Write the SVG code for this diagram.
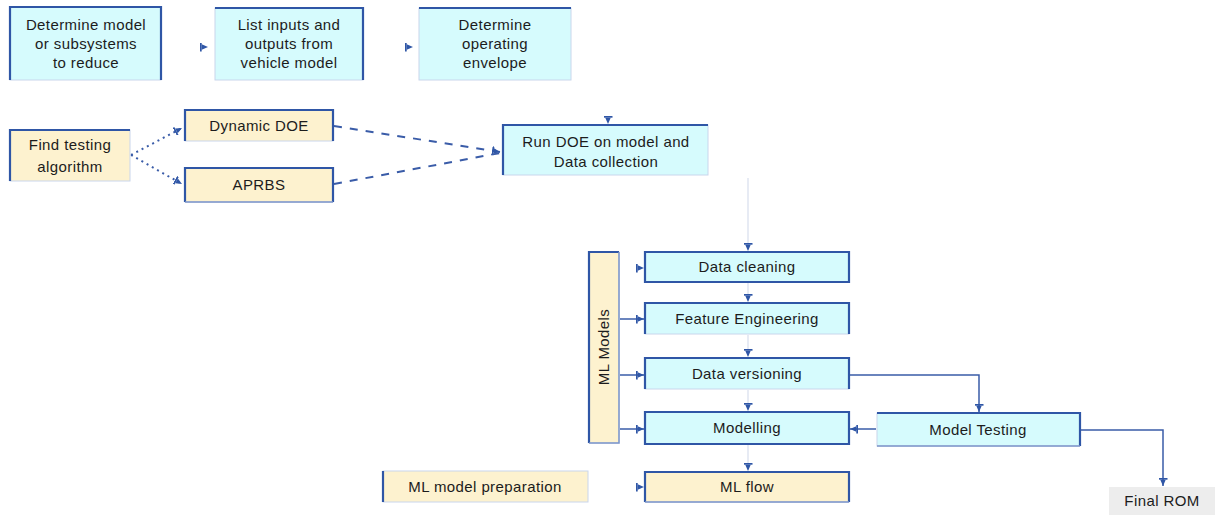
<svg xmlns="http://www.w3.org/2000/svg" width="1215" height="515" viewBox="0 0 1215 515">
  <style>
    text { font-family: "Liberation Sans", Arial, sans-serif; font-size: 15px; fill: #1c1c1c; text-anchor: middle; letter-spacing: 0.4px; }
    .cyan { fill: #d6fbfd; stroke: #c9d6ec; stroke-width: 1; }
    .sand { fill: #fdf2cf; stroke: #c9d6ec; stroke-width: 1; }
    .grey { fill: #ededed; stroke: none; }
    .edge { fill: none; stroke: #2f56a6; stroke-width: 2.2; }
    .soft { fill: none; stroke: #7c95c9; stroke-width: 1.5; }
    .link { fill: none; stroke: #3a5ca8; stroke-width: 1.5; }
    .faint { fill: none; stroke: #dfe5f0; stroke-width: 1.5; }
    .dot { fill: none; stroke: #3a5ca8; stroke-width: 2; stroke-dasharray: 2 4; }
    .dash { fill: none; stroke: #3a5ca8; stroke-width: 2; stroke-dasharray: 8 8; }
    .tip { fill: none; stroke: none; marker-end: url(#head); }
  </style>
  <defs>
    <marker id="head" viewBox="0 0 10 10" refX="9" refY="5" markerWidth="9" markerHeight="9" markerUnits="userSpaceOnUse" orient="auto">
      <rect x="0" y="0" width="2" height="10" fill="#2f56a6"/>
      <path d="M2,2 L9,5 L2,8 z" fill="#2f56a6"/>
    </marker>
  </defs>

  <!-- connectors -->
  <g id="connectors">
    <path class="tip" d="M200,47 L208,47"/>
    <path class="tip" d="M405,47 L413,47"/>
    <path class="dot" d="M131,155 L182,128" marker-end="url(#head)"/>
    <path class="dot" d="M131,155 L182,184" marker-end="url(#head)"/>
    <path class="dash" d="M334,126 L500,152" marker-end="url(#head)"/>
    <path class="dash" d="M334,184 L500,153"/>
    <path class="tip" d="M608,110 L608,124"/>
    <path class="faint" d="M748,178 L748,250"/>
    <path class="faint" d="M748,283 L748,301"/>
    <path class="faint" d="M748,335 L748,356"/>
    <path class="faint" d="M748,390 L748,410"/>
    <path class="faint" d="M748,445 L748,470"/>
    <path class="tip" d="M748,240 L748,251"/>
    <path class="tip" d="M748,290 L748,302"/>
    <path class="tip" d="M748,345 L748,357"/>
    <path class="tip" d="M748,400 L748,411"/>
    <path class="tip" d="M748,460 L748,471"/>
    <path class="tip" d="M630,268 L644,268"/>
    <path class="link" d="M620,319 L644,319" marker-end="url(#head)"/>
    <path class="link" d="M620,375 L644,375" marker-end="url(#head)"/>
    <path class="link" d="M620,429 L644,429" marker-end="url(#head)"/>
    <path class="tip" d="M630,487 L644,487"/>
    <path class="link" d="M850,375 L979,375 L979,412" marker-end="url(#head)"/>
    <path class="link" d="M876,429 L850,429" marker-end="url(#head)"/>
    <path class="link" d="M1081,430 L1163,430 L1163,486" marker-end="url(#head)"/>
  </g>

  <!-- planning row -->
  <g id="node-determine-model">
    <rect class="cyan" x="10" y="7" width="151" height="73"/>
    <path class="edge" d="M10,80 L10,7 L161,7 L161,80"/>
    <text x="86" y="30">Determine model</text>
    <text x="86" y="49">or subsystems</text>
    <text x="86" y="68">to reduce</text>
  </g>
  <g id="node-list-io">
    <rect class="cyan" x="215" y="8" width="148" height="72"/>
    <path class="edge" d="M215,8 L363,8 L363,80"/>
    <text x="289" y="30">List inputs and</text>
    <text x="289" y="49">outputs from</text>
    <text x="289" y="68">vehicle model</text>
  </g>
  <g id="node-envelope">
    <rect class="cyan" x="419" y="8" width="152" height="72"/>
    <path class="edge" d="M419,8 L571,8"/>
    <text x="495" y="30">Determine</text>
    <text x="495" y="49">operating</text>
    <text x="495" y="68">envelope</text>
  </g>

  <!-- test design -->
  <g id="node-find-testing">
    <rect class="sand" x="10" y="130" width="120" height="51"/>
    <path class="edge" d="M10,181 L10,130 L130,130"/>
    <text x="70" y="150">Find testing</text>
    <text x="70" y="172">algorithm</text>
  </g>
  <g id="node-dynamic-doe">
    <rect class="sand" x="185" y="110" width="148" height="31"/>
    <path class="edge" d="M185,141 L185,110 L333,110 L333,141"/>
    <text x="259" y="131">Dynamic DOE</text>
  </g>
  <g id="node-aprbs">
    <rect class="sand" x="185" y="168" width="148" height="34"/>
    <path class="edge" d="M185,202 L185,168 L333,168 L333,202"/>
    <path class="soft" d="M185,202 L333,202"/>
    <text x="259" y="190">APRBS</text>
  </g>
  <g id="node-run-doe">
    <rect class="cyan" x="503" y="125" width="205" height="50"/>
    <path class="edge" d="M503,175 L503,125 L708,125"/>
    <text x="606" y="147">Run DOE on model and</text>
    <text x="606" y="167">Data collection</text>
  </g>

  <!-- ML pipeline -->
  <g id="node-ml-models">
    <rect class="sand" x="589" y="252" width="30" height="191"/>
    <path class="edge" d="M589,443 L589,252 L619,252"/>
    <path class="soft" d="M619,252 L619,443 L589,443"/>
    <text x="604" y="347" transform="rotate(-90 604 347)" dy="5">ML Models</text>
  </g>
  <g id="node-data-cleaning">
    <rect class="cyan" x="645" y="252" width="204" height="30"/>
    <path class="edge" d="M645,252 L849,252 L849,282 L645,282 z"/>
    <text x="747" y="272">Data cleaning</text>
  </g>
  <g id="node-feature-eng">
    <rect class="cyan" x="645" y="303" width="204" height="31"/>
    <path class="edge" d="M645,334 L645,303 L849,303 L849,334"/>
    <text x="747" y="324">Feature Engineering</text>
  </g>
  <g id="node-data-versioning">
    <rect class="cyan" x="645" y="358" width="204" height="31"/>
    <path class="edge" d="M645,389 L645,358 L849,358 L849,389"/>
    <text x="747" y="379">Data versioning</text>
  </g>
  <g id="node-modelling">
    <rect class="cyan" x="645" y="412" width="204" height="32"/>
    <path class="edge" d="M645,412 L849,412 L849,444 L645,444 z"/>
    <text x="747" y="433">Modelling</text>
  </g>
  <g id="node-ml-flow">
    <rect class="sand" x="645" y="472" width="204" height="30"/>
    <path class="edge" d="M645,502 L645,472 L849,472 L849,502"/>
    <path class="soft" d="M645,502 L849,502"/>
    <text x="747" y="492">ML flow</text>
  </g>
  <g id="node-ml-prep">
    <rect class="sand" x="383" y="471" width="205" height="31"/>
    <path class="edge" d="M383,471 L383,502"/>
    <text x="485" y="492">ML model preparation</text>
  </g>
  <g id="node-model-testing">
    <rect class="cyan" x="877" y="413" width="203" height="33"/>
    <path class="edge" d="M877,413 L1080,413 L1080,446"/>
    <path class="soft" d="M877,446 L1080,446"/>
    <text x="978" y="435">Model Testing</text>
  </g>
  <g id="node-final-rom">
    <rect class="grey" x="1109" y="487" width="106" height="28"/>
    <text x="1162" y="506">Final ROM</text>
  </g>
</svg>
